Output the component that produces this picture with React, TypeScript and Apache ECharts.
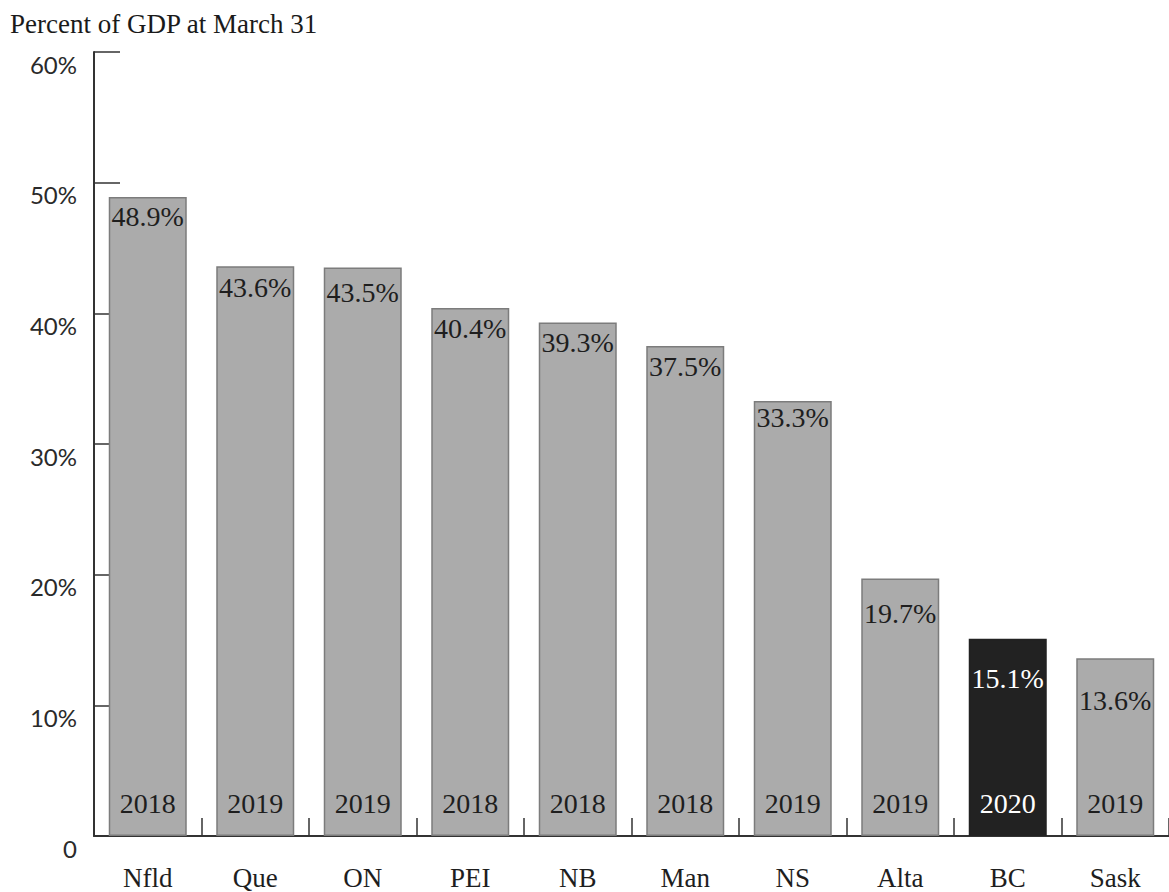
import React, { useEffect, useRef } from "react";
import * as echarts from "echarts";

// Net debt by province, percent of GDP at March 31 of the year shown in each bar
const provinces = ["Nfld", "Que", "ON", "PEI", "NB", "Man", "NS", "Alta", "BC", "Sask"];
const debtShare = [48.9, 43.6, 43.5, 40.4, 39.3, 37.5, 33.3, 19.7, 15.1, 13.6];
const fiscalYears = ["2018", "2019", "2019", "2018", "2018", "2018", "2019", "2019", "2020", "2019"];
const highlighted = "BC";

const SERIF = "'Liberation Serif', 'Times New Roman', serif";
const SANS = "Lato, 'Open Sans', sans-serif";

// how far each value label sits below the top of its bar
const valueLabelDrop: Record<string, number> = {
  Nfld: 5, Que: 7, ON: 11, PEI: 6, NB: 6, Man: 6, NS: 3, Alta: 21, BC: 26, Sask: 28,
};

export default function App() {
  const ref = useRef<HTMLDivElement>(null);

  useEffect(() => {
    if (!ref.current) return;
    const chart = echarts.init(ref.current, undefined, { renderer: "svg" });

    const gray = "#ababab";
    const grayBorder = "#7c7c7c";
    const dark = "#222222";

    const mainData = debtShare.map((v, i) => {
      const isHi = provinces[i] === highlighted;
      return {
        value: v,
        itemStyle: {
          color: isHi ? dark : gray,
          borderColor: isHi ? dark : grayBorder,
          borderWidth: 1.5,
        },
        label: {
          distance: valueLabelDrop[provinces[i]] ?? 7,
          color: isHi ? "#ffffff" : "#1e1e1e",
        },
      };
    });

    const yearData = debtShare.map((v, i) => ({
      value: v,
      label: { color: provinces[i] === highlighted ? "#ffffff" : "#1e1e1e" },
    }));

    chart.setOption({
      animation: false,
      backgroundColor: "#ffffff",
      graphic: [
        {
          type: "text",
          left: 10,
          top: 10,
          style: {
            text: "Percent of GDP at March 31",
            font: `27px ${SERIF}`,
            fill: "#1a1a1a",
          },
        },
      ],
      grid: { left: 94, right: -11, top: 52, bottom: 56, containLabel: false },
      xAxis: {
        type: "category",
        data: provinces,
        axisLine: { show: true, lineStyle: { color: "#333333", width: 2 } },
        axisTick: {
          show: true,
          inside: true,
          length: 18,
          lineStyle: { color: "#333333", width: 1.5 },
        },
        axisLabel: {
          margin: 28,
          fontFamily: SERIF,
          fontSize: 27,
          color: "#1e1e1e",
        },
      },
      yAxis: {
        type: "value",
        min: 0,
        max: 60,
        interval: 10,
        axisLine: { show: true, lineStyle: { color: "#333333", width: 2 } },
        axisTick: {
          show: true,
          inside: true,
          length: 26,
          lineStyle: { color: "#333333", width: 1.5 },
        },
        splitLine: { show: false },
        axisLabel: {
          margin: 17,
          fontFamily: SANS,
          fontSize: 24,
          color: "#2a2a2a",
          verticalAlign: "top",
          padding: [0, 0, 0, 0],
          formatter: (v: number) => (v === 0 ? "0" : `${v}%`),
        },
      },
      series: [
        {
          type: "bar",
          data: mainData,
          barWidth: 78,
          z: 3,
          label: {
            show: true,
            position: "insideTop",
            fontFamily: SERIF,
            fontSize: 28,
            lineHeight: 28,
            formatter: (p: any) => `${Number(p.value).toFixed(1)}%`,
          },
        },
        {
          type: "bar",
          data: yearData,
          barWidth: 78,
          barGap: "-100%",
          z: 4,
          silent: true,
          itemStyle: { color: "transparent" },
          label: {
            show: true,
            position: "insideBottom",
            distance: 19,
            fontFamily: SERIF,
            fontSize: 28,
            lineHeight: 28,
            formatter: (p: any) => fiscalYears[p.dataIndex],
          },
        },
      ],
    });

    return () => chart.dispose();
  }, []);

  return (
    <div
      ref={ref}
      style={{ position: "fixed", left: 0, top: 0, width: 1169, height: 892 }}
    />
  );
}
